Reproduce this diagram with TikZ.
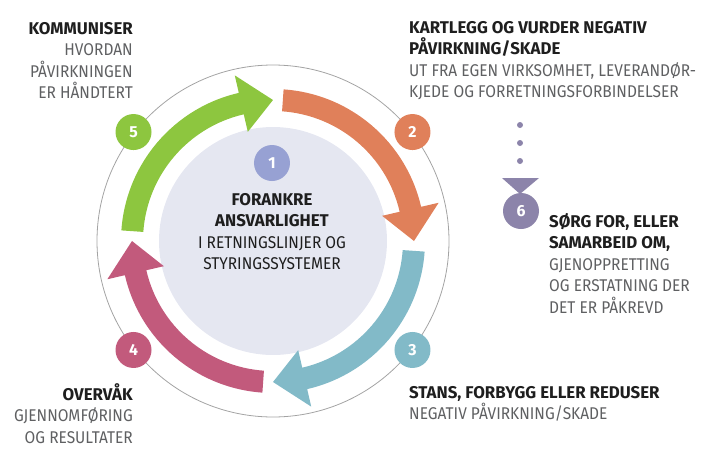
\documentclass[tikz,border=0pt]{standalone}
\usepackage{fontspec}
\setmainfont{Fira Sans}[UprightFeatures={FakeStretch=0.91},BoldFeatures={FakeStretch=0.99}]
\usetikzlibrary{positioning}
\definecolor{cgreen}{HTML}{8DC63F}
\definecolor{corange}{HTML}{E0805A}
\definecolor{cteal}{HTML}{82BAC8}
\definecolor{cpink}{HTML}{C25A7C}
\definecolor{cblue}{HTML}{97A1D3}
\definecolor{cpurple}{HTML}{8C84AA}
\definecolor{cinner}{HTML}{E5E7F1}
\definecolor{cring}{HTML}{A3A3A3}
\definecolor{cgraytxt}{HTML}{5F6062}
\definecolor{cdark}{HTML}{1E1E1E}
\newcommand\bfline[1]{{\color{cdark}\bfseries #1}}

\begin{document}
\begin{tikzpicture}[x=1pt,y=1pt,
    numdot/.style={circle,fill=#1,minimum size=36pt,inner sep=0pt,text=white,
      font=\fontsize{16}{16}\selectfont\bfseries},
    steptxt/.style={inner sep=0pt,text=cgraytxt,font=\fontsize{17}{21.5}\selectfont}]
  \useasboundingbox (-273,-226) rectangle (445,241);
  \def\ri{130pt}
  \def\ro{152pt}
  \def\rm{141pt}
  \def\hi{112pt}
  \def\ho{170pt}
  % ring and centre
  \draw[cring, line width=0.8pt] (0,0) circle (176pt);
  \fill[cinner] (0,0) circle (114pt);
  % the four arrows
  \foreach \t/\p/\col in {176/90/cgreen, 86/0/corange, -4/-90/cteal, -94/-180/cpink}{
    \pgfmathsetmacro\h{\p+13}
    \fill[\col] (\t:\ri) arc[start angle=\t, end angle=\h, radius=\ri]
      -- (\h:\hi) -- (\p:\rm) -- (\h:\ho) -- (\h:\ro)
      arc[start angle=\h, end angle=\t, radius=\ro] -- cycle;
  }
  % numbers
  \node[numdot=cblue]   (c1) at (-1,78) {1};
  \node[numdot=corange] (c2) at (38:177pt) {2};
  \node[numdot=cteal]   (c3) at (-38:177pt) {3};
  \node[numdot=cpink]   (c4) at (-142:177pt) {4};
  \node[numdot=cgreen]  (c5) at (142:177pt) {5};
  \node[numdot=cpurple] (c6) at (248,30) {6};
  % dots and triangle to 6
  \foreach \y in {116,98,80}
    \fill[cpurple] (247,\y) circle (3pt);
  \fill[cpurple] (229,63) -- (266,63) -- (247,47) -- cycle;
  % texts
  \node[steptxt, anchor=north, align=center, text=cdark] (t1) at (-1,48)
    {\bfline{FORANKRE}\\\bfline{ANSVARLIGHET}\\I RETNINGSLINJER OG\\STYRINGSSYSTEMER};
  \node[steptxt, anchor=north west, align=left] (t2) at (136,220)
    {\bfline{KARTLEGG OG VURDER NEGATIV}\\\bfline{PÅVIRKNING/SKADE}\\UT FRA EGEN VIRKSOMHET, LEVERANDØR-\\KJEDE OG FORRETNINGSFORBINDELSER};
  \node[steptxt, anchor=north west, align=left] (t3) at (136,-145)
    {\bfline{STANS, FORBYGG ELLER REDUSER}\\NEGATIV PÅVIRKNING/SKADE};
  \node[steptxt, anchor=north east, align=right] (t4) at (-140,-142)
    {\bfline{OVERVÅK}\\GJENNOMFØRING\\OG RESULTATER};
  \node[steptxt, anchor=north east, align=right] (t5) at (-140,219)
    {\bfline{KOMMUNISER}\\HVORDAN\\PÅVIRKNINGEN\\ER HÅNDTERT};
  \node[steptxt, anchor=north west, align=left] (t6) at (276,28)
    {\bfline{SØRG FOR, ELLER}\\\bfline{SAMARBEID OM,}\\GJENOPPRETTING\\OG ERSTATNING DER\\DET ER PÅKREVD};
\end{tikzpicture}
\end{document}
